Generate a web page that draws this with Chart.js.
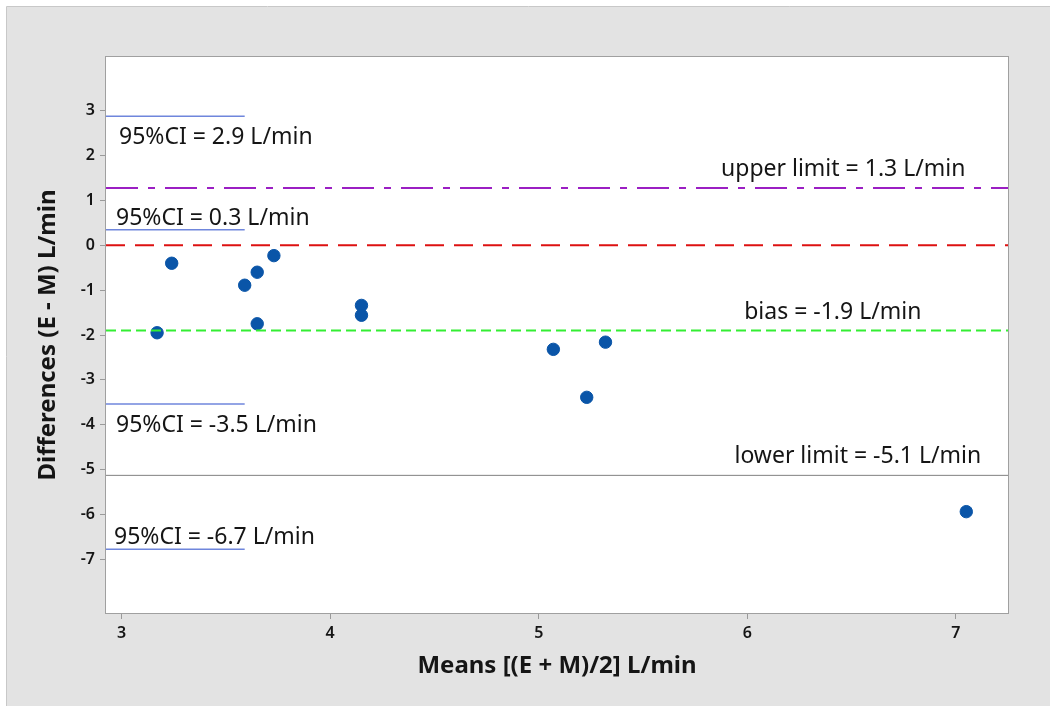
<!DOCTYPE html>
<html>
<head>
<meta charset="utf-8">
<script src="https://cdn.jsdelivr.net/npm/chart.js@4.4.0/dist/chart.umd.min.js"></script>
<style>
    html, body { margin: 0; padding: 0; background: #fff; }
    #wrap { width: 1050px; height: 706px; }
</style>
</head>
<body>
<div id="wrap"><canvas id="baChart" width="1050" height="706"></canvas></div>
<script>
// data
const meanVals = [3.17, 3.24, 3.59, 3.65, 3.65, 3.73, 4.15, 4.15, 5.07, 5.23, 5.32, 7.05];
const diffVals = [-1.95, -0.40, -0.89, -0.60, -1.75, -0.23, -1.34, -1.56, -2.32, -3.39, -2.16, -5.94];

const xTicks = [3, 4, 5, 6, 7];
const yTicks = [3, 2, 1, 0, -1, -2, -3, -4, -5, -6, -7];
const xRange = [2.925, 7.25];
const yRange = [-8.2, 4.2];

// upper limit, zero, bias, lower limit
const limitVals = [1.28, 0, -1.90, -5.13];
const limitLabels = ['upper limit = 1.3 L/min', '', 'bias = -1.9 L/min', 'lower limit = -5.1 L/min'];

// confidence interval markers
const ciVals = [2.88, 0.35, -3.54, -6.78];
const ciLabels = ['95%CI = 2.9 L/min', '95%CI = 0.3 L/min', '95%CI = -3.5 L/min', '95%CI = -6.7 L/min'];
const ciEnd = 3.59;

/* ==============================
   STYLES
================================= */

const FONT = '"Noto Sans", "Open Sans", sans-serif';

const limitStyles = [
    { color: '#9b1fc3', width: 2, dash: [32, 10, 7, 10] },
    { color: '#dd1111', width: 2, dash: [19, 10] },
    { color: '#33ee33', width: 2, dash: [10, 5] },
    { color: '#808080', width: 1, dash: [] }
];
const ciStyle = { color: '#6f86dc', width: 1.5 };

// where the text sits (x in data units, y as pixel offset to its line)
const limitLabelX = [6.46, 0, 6.41, 6.53];
const limitLabelDy = -12;
const ciLabelDy = [28, -5, 28, -5];
const ciLabelDx = [13, 10, 10, 8];

/* ==============================
   DATASETS
================================= */

const datasets = [];

datasets.push({
    label: 'diff',
    data: meanVals.map((x, i) => ({ x: x, y: diffVals[i] })),
    backgroundColor: '#0a55a8',
    borderColor: '#0a55a8',
    pointRadius: 6.2,
    pointHoverRadius: 6.2,
    showLine: false,
    order: 2
});

limitVals.forEach((v, i) => {
    const s = limitStyles[i];
    datasets.push({
        label: 'limit' + i,
        data: [{ x: xRange[0], y: v }, { x: xRange[1], y: v }],
        showLine: true,
        borderColor: s.color,
        borderWidth: s.width,
        borderDash: s.dash,
        pointRadius: 0,
        order: 1
    });
});

ciVals.forEach((v, i) => {
    datasets.push({
        label: 'ci' + i,
        data: [{ x: xRange[0], y: v }, { x: ciEnd, y: v }],
        showLine: true,
        borderColor: ciStyle.color,
        borderWidth: ciStyle.width,
        pointRadius: 0,
        order: 1
    });
});

/* ==============================
   PLUGINS
================================= */

const panelPlugin = {
    id: 'panel',
    beforeDraw(chart) {
        const { ctx, chartArea: a, width, height } = chart;
        ctx.save();
        ctx.fillStyle = '#ffffff';
        ctx.fillRect(0, 0, width, height);
        ctx.fillStyle = '#e3e3e3';
        ctx.fillRect(7, 7, width - 7, height - 7);
        ctx.strokeStyle = '#c8c8c8';
        ctx.lineWidth = 1;
        ctx.beginPath();
        ctx.moveTo(6.5, height);
        ctx.lineTo(6.5, 6.5);
        ctx.lineTo(width, 6.5);
        ctx.stroke();
        ctx.fillStyle = '#ffffff';
        ctx.fillRect(a.left, a.top, a.right - a.left, a.bottom - a.top);
        ctx.restore();
    },
    afterDatasetsDraw(chart) {
        const { ctx, chartArea: a, scales } = chart;
        const xs = scales.x, ys = scales.y;
        ctx.save();
        ctx.fillStyle = '#151515';
        ctx.font = '23px ' + FONT;
        ctx.textBaseline = 'alphabetic';

        ctx.textAlign = 'center';
        limitLabels.forEach((t, i) => {
            if (!t) return;
            ctx.fillText(t, xs.getPixelForValue(limitLabelX[i]), ys.getPixelForValue(limitVals[i]) + limitLabelDy);
        });

        ctx.textAlign = 'left';
        ciLabels.forEach((t, i) => {
            ctx.fillText(t, a.left + ciLabelDx[i], ys.getPixelForValue(ciVals[i]) + ciLabelDy[i]);
        });

        ctx.strokeStyle = '#a0a0a0';
        ctx.lineWidth = 1;
        ctx.strokeRect(a.left - 0.5, a.top - 0.5, a.right - a.left + 1, a.bottom - a.top + 1);
        ctx.restore();
    }
};

/* ==============================
   CHART
================================= */

new Chart(document.getElementById('baChart'), {
    type: 'scatter',
    data: { datasets: datasets },
    options: {
        responsive: false,
        animation: false,
        devicePixelRatio: 1,
        layout: { padding: { left: 0, top: 57, right: 42, bottom: 0 } },
        plugins: {
            legend: { display: false },
            tooltip: { enabled: false }
        },
        scales: {
            x: {
                type: 'linear',
                min: xRange[0],
                max: xRange[1],
                afterBuildTicks: s => { s.ticks = xTicks.map(v => ({ value: v })); },
                afterFit: s => { s.height = 93; },
                grid: { drawOnChartArea: false, drawTicks: true, tickLength: 6, color: '#9a9a9a' },
                border: { display: false },
                ticks: {
                    color: '#151515',
                    padding: 5,
                    maxRotation: 0,
                    font: { family: FONT, size: 16, weight: '600' }
                },
                title: {
                    display: true,
                    text: 'Means [(E + M)/2] L/min',
                    color: '#151515',
                    font: { family: FONT, size: 24, weight: 'bold' },
                    padding: { top: 25, bottom: 25 }
                }
            },
            y: {
                type: 'linear',
                min: yRange[0],
                max: yRange[1],
                afterBuildTicks: s => { s.ticks = yTicks.map(v => ({ value: v })); },
                afterFit: s => { s.width = 106; },
                grid: { drawOnChartArea: false, drawTicks: true, tickLength: 6, color: '#9a9a9a' },
                border: { display: false },
                ticks: {
                    color: '#151515',
                    padding: 5,
                    font: { family: FONT, size: 16, weight: '600' }
                },
                title: {
                    display: true,
                    text: 'Differences (E - M) L/min',
                    color: '#151515',
                    font: { family: FONT, size: 24, weight: 'bold' },
                    padding: { top: 34, bottom: 0 }
                }
            }
        }
    },
    plugins: [panelPlugin]
});
</script>
</body>
</html>
